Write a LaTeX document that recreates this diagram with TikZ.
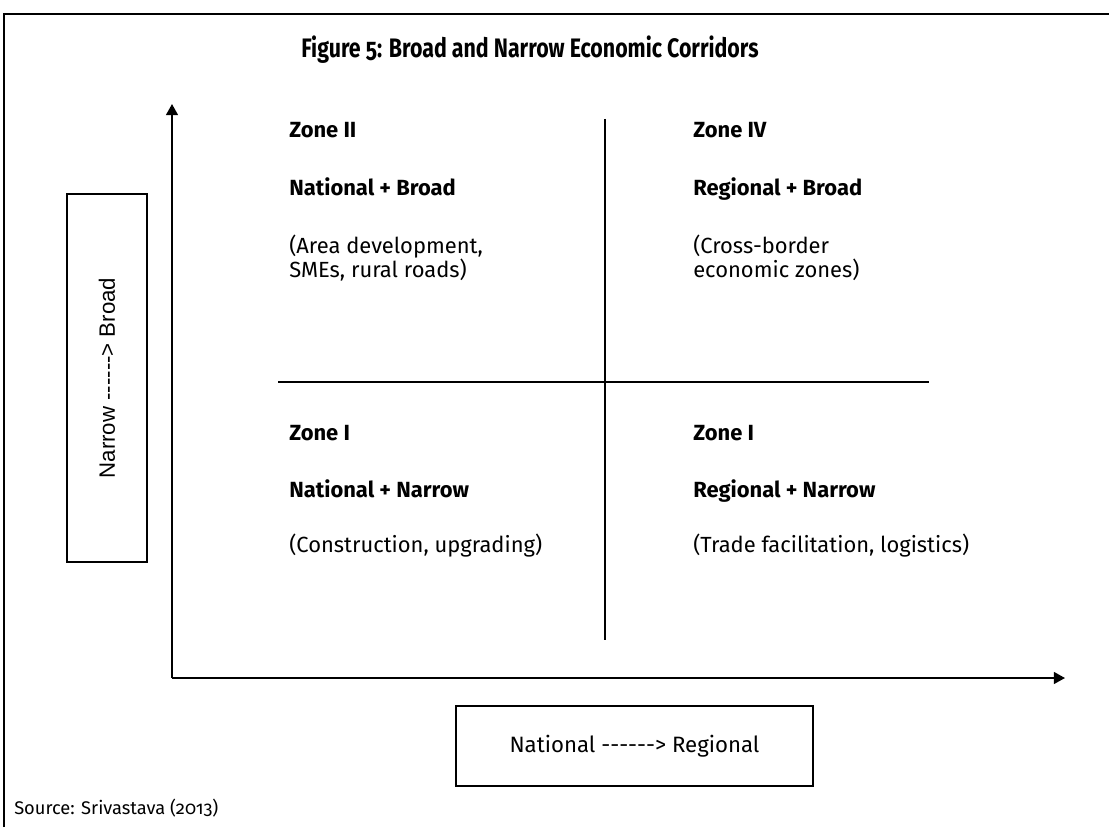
\documentclass[tikz,border=0pt]{standalone}
\usepackage{fontspec}
\setmainfont{Fira Sans}[Numbers=OldStyle]
\newfontfamily\axisfont{Liberation Sans}
\usetikzlibrary{arrows.meta}

\newcommand{\longarrow}{-{}-{}-{}-{}-{}-{}>} % keep the hyphens apart

\tikzset{
  zonetext/.style={anchor=base west, inner sep=0pt, font=\fontsize{15.6}{18}\selectfont},
  zonehead/.style={zonetext, font=\fontsize{15.6}{18}\selectfont\bfseries},
  axisbox/.style={draw, line width=0.9pt, inner sep=0pt, font=\fontsize{15.8}{18}\selectfont},
  axisline/.style={line width=1.3pt, -{Triangle[length=8pt, width=8.5pt]}},
  divider/.style={line width=1pt},
}

\begin{document}
\begin{tikzpicture}[x=0.025cm, y=-0.025cm] %% 1 unit = 1px, y runs down
\useasboundingbox (0,0) rectangle (1109,827);

%% frame on top and left
\coordinate (FL) at (4,827);
\coordinate (FC) at (4,14);
\coordinate (FR) at (1109,14);
\draw[line width=1.8pt] (FL)--(FC)--(FR);

\node[xscale=0.8, inner sep=0pt, font=\fontsize{19}{22}\selectfont\bfseries] (title) at (530,50) {Figure 5: Broad and Narrow Economic Corridors};

%% axes
\coordinate (O) at (172,678);
\coordinate (Ytip) at (172,104);
\coordinate (Xtip) at (1065,678);
\draw[axisline] (O)--(Ytip);
\draw[axisline] (O)--(Xtip);

%% quadrant dividers
\coordinate (Vtop) at (605,119);
\coordinate (Vbot) at (605,640);
\coordinate (Hleft) at (278,382);
\coordinate (Hright) at (929,382);
\draw[divider] (Vtop)--(Vbot);
\draw[divider] (Hleft)--(Hright);

%% axis captions
\node[axisbox, font=\axisfont\fontsize{15.8}{18}\selectfont, rotate=90, minimum width=9.2cm, minimum height=2cm] (ylab) at (107,378) {Narrow ------> Broad};
\node[axisbox, minimum width=8.925cm, minimum height=2cm] (xlab) at (634.5,746) {National \longarrow{} Regional};

%% upper left
\node[zonehead] (z2) at (289,138) {Zone II};
\node[zonehead] (z2t) at (289,195) {National + Broad};
\node[zonetext] (z2a) at (289,253) {(Area development,};
\node[zonetext] (z2b) at (289,277) {SMEs, rural roads)};

%% upper right
\node[zonehead] (z4) at (693,138) {Zone IV};
\node[zonehead] (z4t) at (693,195) {Regional + Broad};
\node[zonetext] (z4a) at (693,253) {(Cross-border};
\node[zonetext] (z4b) at (693,277) {economic zones)};

%% lower left
\node[zonehead] (z1) at (289,440) {Zone I};
\node[zonehead] (z1t) at (289,497) {National + Narrow};
\node[zonetext] (z1a) at (289,552) {(Construction, upgrading)};

%% lower right
\node[zonehead] (z3) at (693,440) {Zone I};
\node[zonehead] (z3t) at (693,497) {Regional + Narrow};
\node[zonetext] (z3a) at (693,552) {(Trade facilitation, logistics)};

\node[zonetext, font=\fontsize{13}{15}\selectfont] (src) at (14,814) {Source: Srivastava (2013)};
\end{tikzpicture}
\end{document}
